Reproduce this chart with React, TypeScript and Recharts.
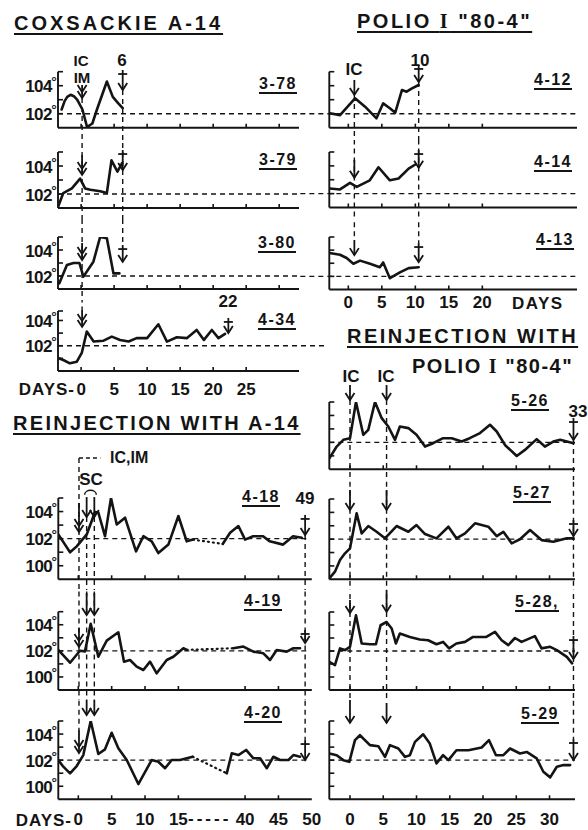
import React from 'react';
import { LineChart, Line, XAxis, YAxis, ReferenceLine } from 'recharts';

type Pt = [number, number];

// ---------- Coxsackie A-14 (day, °F) ----------
const C_3_78: Pt[] = [[-2.95,102.3],[-2.5,102.9],[-2.1,103.2],[-1.6,103.35],[-1.1,103.25],[-0.6,103.0],[0.2,102.3],[0.9,101.05],[1.7,101.3],[2.4,102.3],[3.9,104.3],[4.8,103.2],[5.6,102.75],[6.3,102.4]];
const C_3_79: Pt[] = [[-3.5,101.07],[-2.7,102.07],[-1.4,102.4],[-0.15,103.1],[0.6,102.4],[1.4,102.3],[2.9,102.2],[3.9,102.07],[4.6,104.4],[5.5,103.6],[6.2,104.2]];
const C_3_80: Pt[] = [[-3.3,101.44],[-2.15,102.85],[-1.15,103.0],[-0.26,103.0],[0.35,101.95],[1.86,103.1],[2.88,105.0],[3.9,104.9],[4.9,102.2],[5.8,102.2]];
const C_4_34: Pt[] = [[-3.4,101.01],[-2.7,100.87],[-1.7,100.61],[-0.65,100.74],[0.1,101.43],[0.86,103.12],[1.9,102.33],[3.4,102.4],[4.65,102.72],[5.9,102.46],[7.2,102.33],[8.4,102.6],[10.0,102.6],[11.7,103.7],[13.0,102.33],[14.5,102.67],[16.0,102.6],[17.5,103.25],[18.6,102.46],[19.8,103.25],[20.8,102.6],[21.8,102.94]];

// ---------- Polio I "80-4" ----------
const P_4_12: Pt[] = [[-2.8,102.03],[-1.24,101.9],[1.0,103.1],[2.5,102.5],[4.2,101.67],[5.2,102.74],[6.2,102.39],[7.0,102.07],[8.0,103.69],[8.7,103.57],[9.5,103.81],[10.5,104.05]];
const P_4_14: Pt[] = [[-2.75,102.37],[-1.24,102.3],[0.25,102.77],[1.25,102.49],[3.2,102.96],[4.5,103.9],[6.2,102.96],[7.5,103.09],[9.0,103.8],[10.0,104.1]];
const P_4_13: Pt[] = [[-2.8,103.78],[-1.24,103.65],[-0.25,103.4],[0.75,102.96],[1.75,103.2],[3.24,102.96],[4.7,102.7],[5.2,103.06],[6.2,101.86],[7.7,102.3],[9.0,102.63],[10.5,102.7]];

// ---------- Reinjection with Polio I "80-4" ----------
const R_5_26: Pt[] = [[-3.1,100.82],[-2.0,101.69],[-1.0,102.19],[0,102.31],[0.9,105.0],[2.0,102.56],[2.75,102.93],[3.76,105.0],[4.77,103.8],[5.76,103.18],[6.77,102.19],[7.5,103.18],[8.77,103.06],[10.0,102.56],[11.28,101.69],[12.5,101.94],[14.0,102.31],[15.3,102.31],[16.8,102.06],[18.0,102.31],[19.55,102.69],[21.05,103.31],[22.06,102.81],[23.3,101.81],[25.07,100.99],[26.3,101.44],[28.07,102.24],[29.3,101.69],[30.57,102.06],[31.6,102.19],[33.6,101.94]];
const R_5_27: Pt[] = [[-3.1,99.07],[-2.26,99.57],[-1.5,100.44],[-0.75,100.94],[0,101.31],[1.0,103.93],[1.76,102.43],[2.75,102.98],[4.0,102.55],[5.26,102.06],[7.0,102.98],[8.77,102.55],[10.0,103.05],[11.28,102.38],[13.0,102.06],[14.8,102.93],[16.0,102.06],[17.3,102.43],[18.8,103.18],[20.8,102.93],[22.06,102.23],[23.06,102.55],[24.3,101.69],[25.56,101.99],[27.07,102.68],[28.8,101.93],[30.57,101.81],[32.6,102.06],[33.6,102.06]];
const R_5_28: Pt[] = [[-3.1,101.17],[-2.26,100.92],[-1.5,102.2],[-0.75,102.07],[0,102.32],[0.9,104.75],[1.76,102.58],[3.0,102.52],[3.9,102.52],[4.6,103.98],[5.5,104.23],[6.27,103.73],[6.9,102.58],[7.5,103.34],[9.0,103.08],[10.5,102.88],[11.75,102.83],[13.0,102.52],[14.0,102.7],[14.9,102.2],[16.0,102.58],[17.3,102.7],[18.5,103.08],[20.5,103.08],[21.8,103.47],[22.8,102.83],[23.8,102.45],[24.8,103.0],[25.8,102.7],[27.8,103.14],[28.8,102.2],[30.1,102.32],[31.1,102.07],[32.6,101.55],[33.4,101.05]];
const R_5_29: Pt[] = [[-3.1,102.51],[-2.0,102.38],[-1.0,102.0],[-0.1,101.87],[0.75,103.53],[1.5,103.91],[3.0,103.15],[4.26,103.07],[5.26,102.25],[6.0,103.15],[7.27,102.89],[8.27,102.25],[9.0,102.38],[9.77,103.4],[11.0,103.98],[12.0,103.27],[13.0,101.75],[14.0,102.38],[14.8,102.0],[16.0,102.76],[17.8,102.76],[19.8,102.97],[20.9,103.53],[21.95,102.38],[23.06,102.38],[24.06,102.89],[25.56,102.51],[26.57,102.63],[28.07,102.13],[29.07,101.11],[30.1,100.68],[31.1,101.49],[32.1,101.62],[33.1,101.62]];

// ---------- Reinjection with A-14 (days; axis broken between 15 and 40) ----------
const A_4_18a: Pt[] = [[-3.0,102.31],[-1.24,100.99],[-0.24,101.43],[1.26,102.31],[2.5,103.97],[3.0,103.93],[4.0,102.18],[4.9,105.0],[5.76,103.05],[7.0,103.55],[8.65,101.06],[9.75,102.18],[11.0,101.8],[12.0,100.94],[13.5,101.56],[15.0,103.67],[16.25,101.8],[17.2,101.93]];
const A_4_18gap: Pt[] = [[17.2,101.93],[36.65,101.61]];
const A_4_18b: Pt[] = [[36.65,101.61],[37.75,102.43],[39.0,102.93],[40.0,101.93],[41.2,102.18],[42.7,102.18],[43.7,101.8],[45.7,101.56],[47.2,102.18],[48.5,102.06]];
const A_4_19a: Pt[] = [[-3.0,102.07],[-1.24,101.09],[0.25,102.01],[1.0,101.96],[1.86,104.07],[3.0,101.55],[4.26,102.78],[6.0,103.42],[6.85,101.17],[7.75,101.3],[8.75,100.79],[9.75,100.53],[10.75,101.17],[11.75,100.28],[13.25,101.3],[14.25,101.55],[15.75,102.2],[16.25,102.07]];
const A_4_19gap: Pt[] = [[16.25,102.07],[38.24,102.2]];
const A_4_19b: Pt[] = [[38.24,102.2],[39.74,102.33],[41.24,101.94],[42.74,101.81],[43.74,101.3],[44.74,102.07],[46.24,101.94],[47.24,102.2],[48.24,102.2]];
const A_4_20a: Pt[] = [[-3.0,102.01],[-2.25,101.5],[-1.24,100.99],[-0.24,101.55],[0.75,102.39],[1.86,105.0],[3.0,102.47],[4.0,102.83],[5.0,104.1],[6.0,102.91],[7.26,102.01],[9.0,100.17],[11.0,102.01],[12.0,101.88],[13.0,101.38],[14.0,102.01],[15.25,102.01],[16.25,102.14],[17.15,102.26]];
const A_4_20gap: Pt[] = [[17.15,102.26],[37.25,100.99]];
const A_4_20b: Pt[] = [[37.25,100.99],[38.0,102.52],[39.0,102.39],[40.15,102.78],[41.25,102.14],[42.25,102.14],[43.25,101.38],[44.24,102.26],[45.25,102.01],[46.5,102.01],[47.24,102.39],[48.24,102.26]];

// tick values
const LT_TICKS = [0, 5, 10, 15, 20, 25, 30];
const RT_TICKS = [0, 5, 10, 15, 20];
const RB_TICKS = [0, 5, 10, 15, 20, 25, 30];
const LB_TICKS_DAYS = [0, 5, 10, 15, 40, 45, 50];
const BREAK_SHIFT = 15; // days removed by the axis break
const breakPos = (d: number) => (d <= 20 ? d : d - BREAK_SHIFT);
const breakLabel = (p: number) => String(p > 20 ? p + BREAK_SHIFT : p);

const FONT = '"Liberation Sans", Arial, sans-serif';
const INK = '#141414';
const SW = 1.8;
const AX = 1; // axis band size reserved by recharts

type Mark = [string, number, number, number];
type VL = [number, number, number];

interface Cfg {
  left: number; top: number; w: number; h: number;
  m: { top: number; right: number; bottom: number; left: number };
  xd: [number, number]; yd: [number, number];
  yt: number[]; yl: number[];
  xt: number[]; tickMax: number; xlab?: number; labMax?: number; fmt?: (v: number) => string;
  segs: { pts: Pt[]; dotted?: boolean }[];
  marks: Mark[]; vls: VL[]; ref: [number, number];
  map?: (d: number) => number;
  extras?: (map: (d: number) => number) => React.ReactNode[];
}

function arrowShape(kind: string) {
  return (p: any) => {
    const x = p.x1;
    const ya = Math.min(p.y1, p.y2);
    const yb = Math.max(p.y1, p.y2);
    const head = (yy: number, k: number) => (
      <polyline key={k} points={`${x - 4.5},${yy - 7} ${x},${yy} ${x + 4.5},${yy - 7}`} fill="none" stroke={INK} strokeWidth={SW} />
    );
    return (
      <g>
        <line x1={x} y1={ya} x2={x} y2={yb} stroke={INK} strokeWidth={SW} />
        {head(yb, 0)}
        {kind === 'dbl' ? head(yb - 6, 1) : null}
        {kind === 'death' ? <line x1={x - 4.5} x2={x + 4.5} y1={ya + 4} y2={ya + 4} stroke={INK} strokeWidth={SW} /> : null}
      </g>
    );
  };
}

const scArc = (p: any) => {
  const { x1, x2, y1 } = p;
  return <path d={`M${x1 - 2},${y1 + 5} C${x1 - 2},${y1 - 1} ${x2 + 2},${y1 - 1} ${x2 + 2},${y1 + 5}`} fill="none" stroke={INK} strokeWidth={1.5} />;
};

function Panel({ c }: { c: Cfg }) {
  const map = c.map || ((d: number) => d);
  const yTick = (p: any) => {
    const v = p.payload.value;
    const show = c.yl.includes(v);
    return (
      <g>
        <line x1={p.x} x2={p.x + 5} y1={p.y} y2={p.y} stroke={INK} strokeWidth={1.6} />
        {show ? (
          <text x={p.x - 6} y={p.y + 1} textAnchor="end" dominantBaseline="central" fontFamily={FONT} fontWeight={700} fontSize={17} fill={INK} letterSpacing={-0.5}>{v}</text>
        ) : null}
        {show ? (
          <text x={p.x - 4} y={p.y - 4} textAnchor="middle" dominantBaseline="central" fontFamily='"DejaVu Sans", sans-serif' fontWeight={700} fontSize={13} fill={INK}>{'\u00B0'}</text>
        ) : null}
      </g>
    );
  };
  const xTick = (p: any) => {
    const v = p.payload.value;
    const lab = c.xlab && (c.labMax === undefined || v <= c.labMax);
    return (
      <g>
        {v <= c.tickMax ? <line x1={p.x} x2={p.x} y1={p.y} y2={p.y - 4} stroke={INK} strokeWidth={1.6} /> : null}
        {lab ? (
          <text x={p.x} y={p.y + (c.xlab as number)} textAnchor="middle" dominantBaseline="central" fontFamily={FONT} fontWeight={700} fontSize={17} fill={INK}>
            {c.fmt ? c.fmt(v) : String(v)}
          </text>
        ) : null}
      </g>
    );
  };
  const m = { top: c.m.top, right: c.m.right, bottom: c.m.bottom - AX, left: c.m.left - AX };
  return (
    <div style={{ position: 'absolute', left: c.left, top: c.top, width: c.w, height: c.h, overflow: 'hidden' }}>
      <LineChart width={c.w} height={c.h} margin={m}>
        <XAxis type="number" dataKey="d" domain={c.xd} allowDataOverflow ticks={c.xt} interval={0} height={AX}
          tickSize={0} tickMargin={0} tickLine={false} axisLine={{ stroke: INK, strokeWidth: 1.9 }} tick={xTick} />
        <YAxis type="number" domain={c.yd} allowDataOverflow ticks={c.yt} interval={0} width={AX}
          tickSize={0} tickMargin={0} tickLine={false} axisLine={{ stroke: INK, strokeWidth: 1.9 }} tick={yTick} />
        <ReferenceLine segment={[{ x: c.ref[0], y: 102 }, { x: c.ref[1], y: 102 }]} ifOverflow="visible"
          stroke={INK} strokeWidth={1.4} strokeDasharray="5 4" />
        {c.vls.map((v, i) => (
          <ReferenceLine key={'v' + i} segment={[{ x: map(v[0]), y: v[1] }, { x: map(v[0]), y: v[2] }]} ifOverflow="visible"
            stroke={INK} strokeWidth={1.4} strokeDasharray="5 4" />
        ))}
        {c.segs.map((s, i) => (
          <Line key={'s' + i} data={s.pts.map(([d, t]) => ({ d: map(d), t }))} dataKey="t" type="linear"
            stroke={INK} strokeWidth={s.dotted ? 2.2 : 2.6} strokeDasharray={s.dotted ? '1 4' : undefined}
            strokeLinecap="round" strokeLinejoin="round" dot={false} isAnimationActive={false} />
        ))}
        {c.marks.map((mk, i) => (
          <ReferenceLine key={'m' + i} segment={[{ x: map(mk[1]), y: mk[2] }, { x: map(mk[1]), y: mk[3] }]} ifOverflow="visible"
            shape={arrowShape(mk[0])} />
        ))}
        {c.extras ? c.extras(map) : null}
      </LineChart>
    </div>
  );
}

// ---- layout helpers (pixel layout only) ----
const LT = { left: 0, w: 300, xd: [-3.5, 33] as [number, number], ml: 58, mr: 1 };
const RT = { left: 300, w: 288, xd: [-2.84, 34.13] as [number, number], ml: 29.3, mr: 11 };
const RB = { left: 300, w: 288, xd: [-3.11, 33.83] as [number, number], ml: 29.3, mr: 13 };
const LB = { left: 0, w: 332, xd: [-3, 35] as [number, number], ml: 58.3, mr: 20.2 };
const TOP = 150, BOT = 50;

const panels: Cfg[] = [
  // Coxsackie A-14
  { left: LT.left, top: 40, w: LT.w, h: 100, m: { top: 31.7, bottom: 12.3, left: LT.ml, right: LT.mr }, xd: LT.xd, yd: [101, 105],
    yt: [102, 103, 104, 105], yl: [102, 104], xt: LT_TICKS, tickMax: 33, segs: [{ pts: C_3_78 }],
    marks: [['dbl', 0.15, 104.05, 103.12], ['death', 6.3, 105.12, 103.69]], vls: [[0.15, 103.12, BOT], [6.3, 103.69, BOT]], ref: [-3.5, 60] },
  { left: LT.left, top: 140, w: LT.w, h: 80, m: { top: 12, bottom: 12, left: LT.ml, right: LT.mr }, xd: LT.xd, yd: [101, 105],
    yt: [102, 103, 104, 105], yl: [102, 104], xt: LT_TICKS, tickMax: 33, segs: [{ pts: C_3_79 }],
    marks: [['dbl', 0.15, 104.79, 103.36], ['death', 6.3, 105.14, 103.71]], vls: [[0.15, TOP, BOT], [6.3, TOP, BOT]], ref: [-3.5, 60] },
  { left: LT.left, top: 220, w: LT.w, h: 80, m: { top: 17, bottom: 11, left: LT.ml, right: LT.mr }, xd: LT.xd, yd: [101, 105],
    yt: [102, 103, 104, 105], yl: [102, 104], xt: LT_TICKS, tickMax: 33, segs: [{ pts: C_3_80 }],
    marks: [['dbl', 0.15, 104.54, 103.23], ['death', 6.3, 104.38, 103.08]], vls: [[0.15, TOP, BOT], [6.3, TOP, 104.38]], ref: [-3.5, 60] },
  { left: LT.left, top: 300, w: 325, h: 100, m: { top: 11, bottom: 29, left: LT.ml, right: 26 }, xd: LT.xd, yd: [100, 104.75],
    yt: [101, 102, 103, 104, 104.75], yl: [102, 104], xt: LT_TICKS, tickMax: 28, xlab: 18, labMax: 25, segs: [{ pts: C_4_34 }],
    marks: [['dbl', 0.15, 104.84, 103.49], ['death', 22.3, 104.2, 103.0]], vls: [[0.15, TOP, 104.84]], ref: [-3.5, 60] },
  // Polio I "80-4"
  { left: RT.left, top: 40, w: RT.w, h: 100, m: { top: 31.7, bottom: 12.3, left: RT.ml, right: RT.mr }, xd: RT.xd, yd: [101, 105],
    yt: [102, 103, 104, 105], yl: [], xt: RT_TICKS, tickMax: 34, segs: [{ pts: P_4_12 }],
    marks: [['one', 0.9, 104.41, 103.34], ['death', 10.5, 105.48, 104.26]], vls: [[0.9, 103.34, BOT], [10.5, 104.26, BOT]], ref: [-30, 34.13] },
  { left: RT.left, top: 140, w: RT.w, h: 80, m: { top: 12, bottom: 12.5, left: RT.ml, right: RT.mr }, xd: RT.xd, yd: [101, 105],
    yt: [102, 103, 104, 105], yl: [], xt: RT_TICKS, tickMax: 34, segs: [{ pts: P_4_14 }],
    marks: [['one', 0.9, 104.43, 103.14], ['death', 10.5, 105.14, 103.86]], vls: [[0.9, TOP, BOT], [10.5, TOP, BOT]], ref: [-30, 34.13] },
  { left: RT.left, top: 220, w: RT.w, h: 100, m: { top: 17, bottom: 30.5, left: RT.ml, right: RT.mr }, xd: RT.xd, yd: [101, 105],
    yt: [102, 103, 104, 105], yl: [], xt: RT_TICKS, tickMax: 34, xlab: 13, segs: [{ pts: P_4_13 }],
    marks: [['one', 0.9, 104.77, 103.62], ['death', 10.5, 104.54, 103.08]], vls: [[0.9, TOP, 104.77], [10.5, TOP, 104.54]], ref: [-30, 34.13] },
  // Reinjection with Polio
  { left: RB.left, top: 380, w: RB.w, h: 100, m: { top: 22, bottom: 10.7, left: RB.ml, right: RB.mr }, xd: RB.xd, yd: [100, 105],
    yt: [101, 102, 103, 104, 105], yl: [], xt: RB_TICKS, tickMax: 34, segs: [{ pts: R_5_26 }],
    marks: [['one', 0, 106.26, 105.15], ['one', 5.5, 106.26, 105.15], ['death', 33.6, 103.81, 102.18]],
    vls: [[0, 105.15, BOT], [5.5, 105.15, BOT], [33.6, 102.18, BOT]], ref: [-3.11, 33.83] },
  { left: RB.left, top: 480, w: RB.w, h: 110, m: { top: 19, bottom: 10.7, left: RB.ml, right: RB.mr }, xd: RB.xd, yd: [99, 105],
    yt: [100, 101, 102, 103, 104, 105], yl: [], xt: RB_TICKS, tickMax: 34, segs: [{ pts: R_5_27 }],
    marks: [['one', 0, 105.67, 104.18], ['one', 5.5, 105.67, 104.18], ['death', 33.6, 103.43, 102.23]],
    vls: [[0, TOP, BOT], [5.5, TOP, BOT], [33.6, TOP, BOT]], ref: [-3.11, 33.83] },
  { left: RB.left, top: 590, w: RB.w, h: 110, m: { top: 22, bottom: 10, left: RB.ml, right: RB.mr }, xd: RB.xd, yd: [99, 105],
    yt: [100, 101, 102, 103, 104, 105], yl: [], xt: RB_TICKS, tickMax: 34, segs: [{ pts: R_5_28 }],
    marks: [['one', 0, 105.92, 104.92], ['one', 5.5, 106.7, 105.02], ['death', 33.6, 103.15, 101.38]],
    vls: [[0, TOP, BOT], [5.5, TOP, BOT], [33.6, TOP, BOT]], ref: [-3.11, 33.83] },
  { left: RB.left, top: 700, w: RB.w, h: 130, m: { top: 21, bottom: 30.7, left: RB.ml, right: RB.mr }, xd: RB.xd, yd: [99, 105],
    yt: [100, 101, 102, 103, 104, 105], yl: [], xt: RB_TICKS, tickMax: 34, xlab: 20, segs: [{ pts: R_5_29 }],
    marks: [['one', 0, 106.6, 104.85], ['one', 5.5, 106.38, 104.85], ['death', 33.6, 103.62, 102.01]],
    vls: [[33.6, TOP, 103.62]], ref: [-3.11, 33.83] },
  // Reinjection with A-14
  { left: LB.left, top: 450, w: LB.w, h: 140, m: { top: 48, bottom: 10.7, left: LB.ml, right: LB.mr }, xd: LB.xd, yd: [99, 105],
    yt: [100, 101, 102, 103, 104, 105], yl: [100, 102, 104], xt: LB_TICKS_DAYS.map(breakPos), tickMax: 34.3, map: breakPos,
    segs: [{ pts: A_4_18a }, { pts: A_4_18gap, dotted: true }, { pts: A_4_18b }],
    marks: [['dbl', 0.1, 104.63, 102.49], ['one', 1.25, 105.07, 103.6], ['one', 2.4, 105.07, 103.6], ['death', 49, 103.75, 102.27]],
    vls: [[0.1, 107.95, BOT], [1.25, 103.6, BOT], [2.4, 103.6, BOT], [49, 102.27, BOT]], ref: [-3, 34.3],
    extras: (map) => [
      <ReferenceLine key="br" segment={[{ x: map(0.1), y: 107.95 }, { x: map(3.3), y: 107.95 }]} ifOverflow="visible"
        stroke={INK} strokeWidth={1.4} strokeDasharray="4 3" />,
      <ReferenceLine key="sc" segment={[{ x: map(1.25), y: 105.6 }, { x: map(2.4), y: 105.6 }]} ifOverflow="visible" shape={scArc} />,
    ] },
  { left: LB.left, top: 590, w: LB.w, h: 110, m: { top: 21.7, bottom: 10, left: LB.ml, right: LB.mr }, xd: LB.xd, yd: [99, 105],
    yt: [100, 101, 102, 103, 104, 105], yl: [100, 102, 104], xt: LB_TICKS_DAYS.map(breakPos), tickMax: 34.3, map: breakPos,
    segs: [{ pts: A_4_19a }, { pts: A_4_19gap, dotted: true }, { pts: A_4_19b }],
    marks: [['dbl', 0.1, 103.75, 102.3], ['one', 1.25, 106.44, 104.75], ['one', 2.4, 106.44, 104.75], ['death', 49, 103.6, 102.6]],
    vls: [[0.1, TOP, BOT], [1.25, TOP, BOT], [2.4, TOP, BOT], [49, TOP, BOT]], ref: [-3, 34.3] },
  { left: LB.left, top: 700, w: LB.w, h: 130, m: { top: 21, bottom: 30.7, left: LB.ml, right: LB.mr }, xd: LB.xd, yd: [99, 105],
    yt: [100, 101, 102, 103, 104, 105], yl: [100, 102, 104], xt: LB_TICKS_DAYS.map(breakPos), tickMax: 34.3, map: breakPos,
    xlab: 20, fmt: breakLabel,
    segs: [{ pts: A_4_20a }, { pts: A_4_20gap, dotted: true }, { pts: A_4_20b }],
    marks: [['dbl', 0.1, 104.31, 102.55], ['one', 1.25, 107.23, 105.46], ['one', 2.4, 107.23, 105.46], ['death', 49, 103.54, 102.01]],
    vls: [[0.1, TOP, 104.31], [1.25, TOP, 107.23], [2.4, TOP, 107.23], [49, TOP, 103.54]], ref: [-3, 34.3] },
];

interface TxtP { x: number; y: number; s?: number; a?: 'start' | 'middle' | 'end'; u?: boolean; ls?: number; children: React.ReactNode }
const Txt = ({ x, y, s = 16, a = 'middle', u = false, ls = 0, children }: TxtP) => (
  <div style={{
    position: 'absolute', left: x, top: y,
    transform: `translate(${a === 'middle' ? '-50%' : a === 'end' ? '-100%' : '0'}, -50%)`,
    fontFamily: FONT, fontWeight: 700, fontSize: s, lineHeight: 1, whiteSpace: 'nowrap', color: INK,
    letterSpacing: ls, textDecoration: u ? 'underline' : 'none',
    textDecorationThickness: u ? 2 : undefined, textUnderlineOffset: u ? 3 : undefined,
  }}>{children}</div>
);

const SerifI = () => <span style={{ fontFamily: '"Liberation Serif", serif' }}>I</span>;

const panelLabels: [string, number, number][] = [
  ['3-78', 278, 84], ['3-79', 278, 160], ['3-80', 277, 242.5], ['4-34', 277, 320],
  ['4-12', 553, 80], ['4-14', 553, 162], ['4-13', 555, 240],
  ['5-26', 530, 401], ['5-27', 532, 493], ['5-28,', 537, 602], ['5-29', 540, 714],
  ['4-18', 261, 497], ['4-19', 263, 601], ['4-20', 263, 713],
];

const notes: [string, number, number, number][] = [
  ['IC', 81, 59.5, 15], ['IM', 82, 76.5, 15], ['6', 122, 60, 17], ['IC', 354, 68.5, 17], ['10', 420, 60, 17], ['22', 228, 301, 17],
  ['IC', 351, 376, 17], ['IC', 386, 376, 17], ['33', 578, 411, 17], ['49', 305, 497.5, 17], ['SC', 91, 479, 17],
];

export default function App() {
  return (
    <div style={{ position: 'absolute', left: 0, top: 0, width: 588, height: 830, background: '#fff', overflow: 'hidden' }}>
      {panels.map((c, i) => <Panel key={i} c={c} />)}
      <Txt x={14} y={23} s={20} a="start" ls={3} u>COXSACKIE A-14</Txt>
      <Txt x={357} y={21} s={20} a="start" ls={2.5} u>POLIO <SerifI /> "80-4"</Txt>
      <Txt x={347} y={336} s={20} a="start" ls={2.5} u>REINJECTION WITH</Txt>
      <Txt x={412} y={366} s={20} a="start" ls={1.5}>POLIO <SerifI /> "80-4"</Txt>
      <Txt x={13} y={422.5} s={20} a="start" ls={2.3} u>REINJECTION WITH A-14</Txt>
      {panelLabels.map(([t, x, y], i) => <Txt key={'p' + i} x={x} y={y} s={16} ls={1.5} u>{t}</Txt>)}
      {notes.map(([t, x, y, s], i) => <Txt key={'n' + i} x={x} y={y} s={s}>{t}</Txt>)}
      <Txt x={110} y={458} s={16} a="start">IC,IM</Txt>
      <Txt x={75} y={389} s={17} a="end" ls={1}>DAYS-</Txt>
      <Txt x={72} y={819.5} s={17} a="end" ls={1}>DAYS-</Txt>
      <Txt x={188} y={818} s={17} a="start" ls={3}>-----</Txt>
      <Txt x={512} y={302.5} s={17} a="start" ls={1.5}>DAYS</Txt>
    </div>
  );
}
